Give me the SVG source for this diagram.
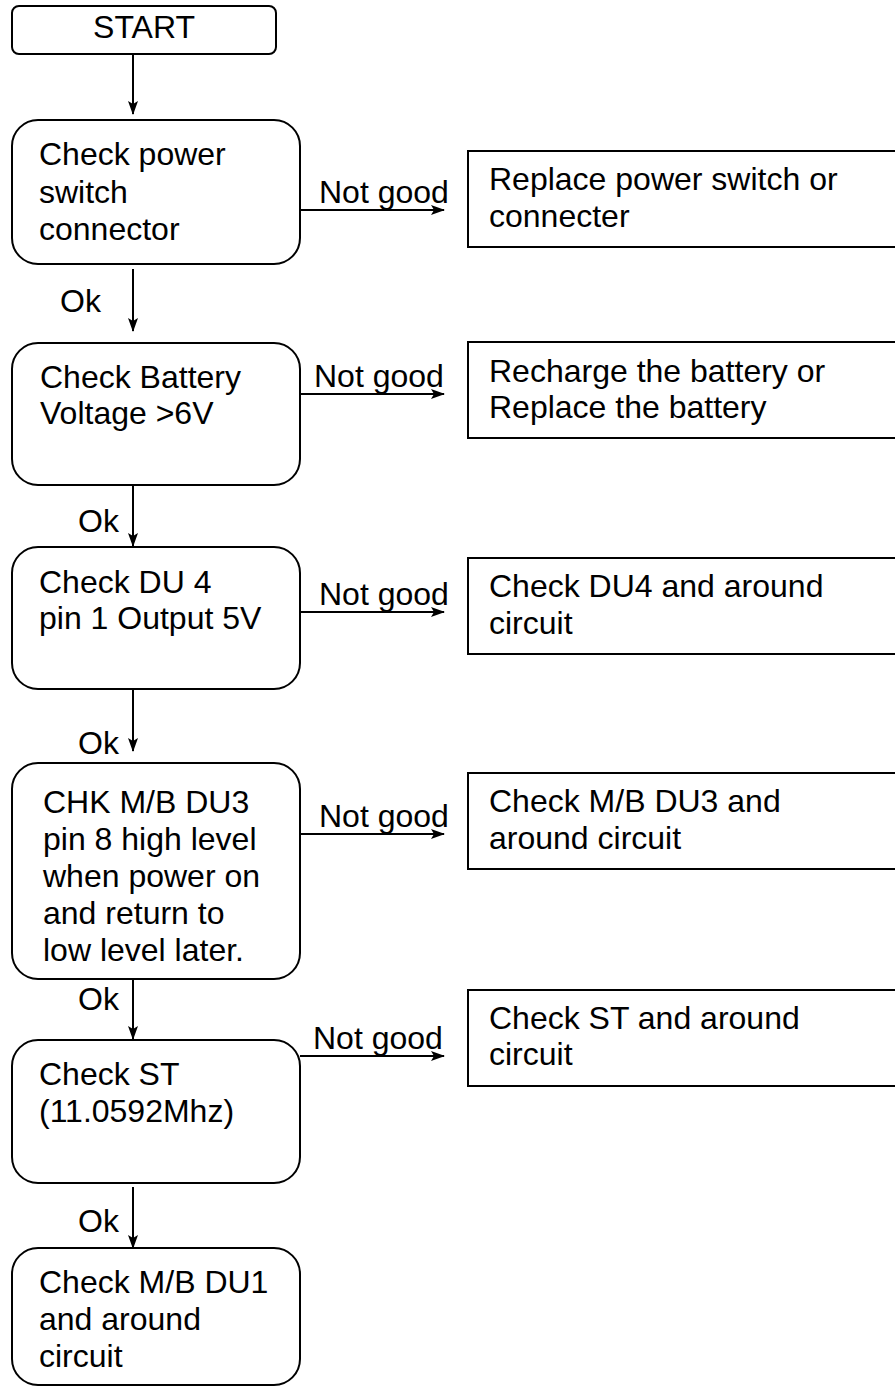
<svg xmlns="http://www.w3.org/2000/svg" width="895" height="1387" viewBox="0 0 895 1387">
<style>
.box{fill:#fff;stroke:#000;stroke-width:2}
.t{font-family:"Liberation Sans",Arial,sans-serif;font-size:32px;fill:#000}
.c{stroke:#000;stroke-width:2;fill:none}
</style>
<defs>
<marker id="ah" markerWidth="14" markerHeight="10" refX="13" refY="5" orient="auto" markerUnits="userSpaceOnUse">
<path d="M0,0 L14,5 L0,10 L3,5 Z" fill="#000"/>
</marker>
</defs>
<rect width="895" height="1387" fill="#fff"/>
<g id="start">
<rect class="box" x="12" y="6" width="264" height="48" rx="7"/>
<text class="t" x="144" y="38" text-anchor="middle">START</text>
</g>
<g id="n1">
<rect class="box" x="12" y="120" width="288" height="144" rx="26"/>
<text class="t" x="39" y="165">Check power</text>
<text class="t" x="39" y="203">switch</text>
<text class="t" x="39" y="240">connector</text>
</g>
<g id="r1">
<rect class="box" x="468" y="151" width="440" height="96"/>
<text class="t" x="489" y="190">Replace power switch or</text>
<text class="t" x="489" y="227">connecter</text>
</g>
<g id="n2">
<rect class="box" x="12" y="343" width="288" height="142" rx="26"/>
<text class="t" x="40" y="388">Check Battery</text>
<text class="t" x="40" y="424">Voltage &gt;6V</text>
</g>
<g id="r2">
<rect class="box" x="468" y="342" width="440" height="96"/>
<text class="t" x="489" y="382">Recharge the battery or</text>
<text class="t" x="489" y="418">Replace the battery</text>
</g>
<g id="n3">
<rect class="box" x="12" y="547" width="288" height="142" rx="26"/>
<text class="t" x="39" y="593">Check DU 4</text>
<text class="t" x="39" y="629">pin 1 Output 5V</text>
</g>
<g id="r3">
<rect class="box" x="468" y="558" width="440" height="96"/>
<text class="t" x="489" y="597">Check DU4 and around</text>
<text class="t" x="489" y="634">circuit</text>
</g>
<g id="n4">
<rect class="box" x="12" y="763" width="288" height="216" rx="26"/>
<text class="t" x="43" y="813">CHK M/B DU3</text>
<text class="t" x="43" y="850">pin 8 high level</text>
<text class="t" x="43" y="887">when power on</text>
<text class="t" x="43" y="924">and return to</text>
<text class="t" x="43" y="961">low level later.</text>
</g>
<g id="r4">
<rect class="box" x="468" y="773" width="440" height="96"/>
<text class="t" x="489" y="812">Check M/B DU3 and</text>
<text class="t" x="489" y="849">around circuit</text>
</g>
<g id="n5">
<rect class="box" x="12" y="1040" width="288" height="143" rx="26"/>
<text class="t" x="39" y="1085">Check ST</text>
<text class="t" x="39" y="1122">(11.0592Mhz)</text>
</g>
<g id="r5">
<rect class="box" x="468" y="990" width="440" height="96"/>
<text class="t" x="489" y="1029">Check ST and around</text>
<text class="t" x="489" y="1065">circuit</text>
</g>
<g id="n6">
<rect class="box" x="12" y="1248" width="288" height="137" rx="26"/>
<text class="t" x="39" y="1293">Check M/B DU1</text>
<text class="t" x="39" y="1330">and around</text>
<text class="t" x="39" y="1367">circuit</text>
</g>
<g id="connectors">
<line class="c" x1="133" y1="54" x2="133" y2="114" marker-end="url(#ah)"/>
<line class="c" x1="133" y1="269" x2="133" y2="331" marker-end="url(#ah)"/>
<line class="c" x1="133" y1="485" x2="133" y2="546" marker-end="url(#ah)"/>
<line class="c" x1="133" y1="689" x2="133" y2="751" marker-end="url(#ah)"/>
<line class="c" x1="133" y1="979" x2="133" y2="1039" marker-end="url(#ah)"/>
<line class="c" x1="133" y1="1187" x2="133" y2="1248" marker-end="url(#ah)"/>
<line class="c" x1="300" y1="210" x2="444" y2="210" marker-end="url(#ah)"/>
<line class="c" x1="300" y1="394" x2="444" y2="394" marker-end="url(#ah)"/>
<line class="c" x1="300" y1="612" x2="444" y2="612" marker-end="url(#ah)"/>
<line class="c" x1="300" y1="834" x2="444" y2="834" marker-end="url(#ah)"/>
<line class="c" x1="300" y1="1056" x2="444" y2="1056" marker-end="url(#ah)"/>
<text class="t" x="60" y="312">Ok</text>
<text class="t" x="78" y="532">Ok</text>
<text class="t" x="78" y="754">Ok</text>
<text class="t" x="78" y="1010">Ok</text>
<text class="t" x="78" y="1232">Ok</text>
<text class="t" x="319" y="203">Not good</text>
<text class="t" x="314" y="387">Not good</text>
<text class="t" x="319" y="605">Not good</text>
<text class="t" x="319" y="827">Not good</text>
<text class="t" x="313" y="1049">Not good</text>
</g>
</svg>
